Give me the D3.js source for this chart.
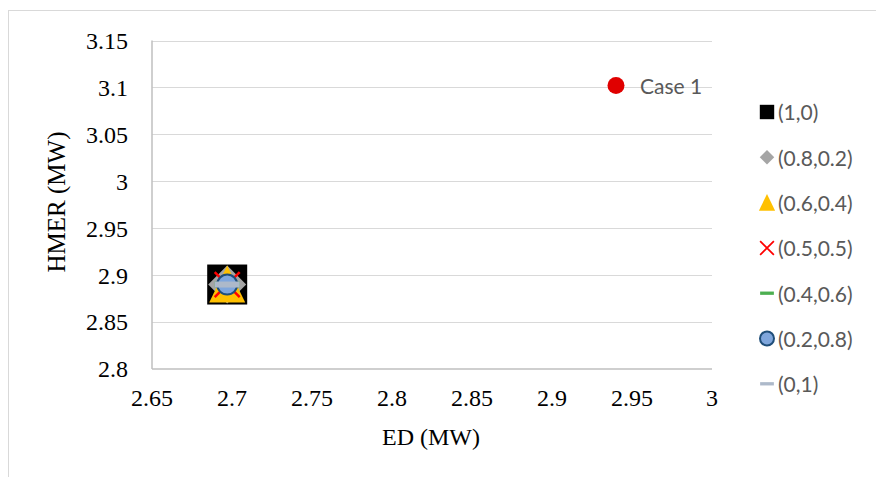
<!DOCTYPE html>
<html><head><meta charset="utf-8">
<script src="https://cdn.jsdelivr.net/npm/d3@7"></script>
<style>body{margin:0;background:#fff}svg{display:block}</style>
</head><body>
<svg id="c" width="876" height="477"></svg>
<script>
const xTicks = [2.65, 2.7, 2.75, 2.8, 2.85, 2.9, 2.95, 3];
const yTicks = [2.8, 2.85, 2.9, 2.95, 3, 3.05, 3.1, 3.15];
const seriesNames = ["(1,0)", "(0.8,0.2)", "(0.6,0.4)", "(0.5,0.5)", "(0.4,0.6)", "(0.2,0.8)", "(0,1)"];
const seriesED   = [2.697, 2.697, 2.697, 2.697, 2.697, 2.697, 2.697];
const seriesHMER = [2.89, 2.89, 2.89, 2.89, 2.89, 2.89, 2.89];
const caseName = "Case 1";
const caseED = 2.94;
const caseHMER = 3.102;

const svg = d3.select("#c");
// outer frame
svg.append("rect").attr("x", 8.5).attr("y", 10.5).attr("width", 900).attr("height", 500)
  .attr("fill", "none").attr("stroke", "#d9d9d9").attr("stroke-width", 1);

const x = d3.scaleLinear().domain([2.65, 3]).range([152, 712]);
const y = d3.scaleLinear().domain([2.8, 3.15]).range([369, 40.5]);

// gridlines
svg.append("g").selectAll("line").data(yTicks.slice(1)).join("line")
  .attr("x1", x(2.65)).attr("x2", x(3))
  .attr("y1", d => Math.round(y(d)) + 0.5).attr("y2", d => Math.round(y(d)) + 0.5)
  .attr("stroke", "#d9d9d9").attr("stroke-width", 1);

// axes lines
const axisColor = "#bfbfbf";
svg.append("line").attr("x1", x(2.65)).attr("x2", x(2.65)).attr("y1", y(3.15)).attr("y2", y(2.8))
  .attr("stroke", axisColor).attr("stroke-width", 1.5);
svg.append("line").attr("x1", x(2.65)).attr("x2", x(3)).attr("y1", y(2.8)).attr("y2", y(2.8))
  .attr("stroke", axisColor).attr("stroke-width", 1.5);

const tickFont = "'Liberation Serif','Times New Roman',serif";
// y tick labels
svg.append("g").selectAll("text").data(yTicks).join("text")
  .attr("x", 128).attr("y", d => y(d)).attr("dy", "0.35em")
  .attr("text-anchor", "end").attr("font-family", tickFont).attr("font-size", 24)
  .attr("fill", "#000").text(d => d3.format("")(d));
// x tick labels
svg.append("g").selectAll("text").data(xTicks).join("text")
  .attr("x", d => x(d)).attr("y", 398).attr("dy", "0.35em")
  .attr("text-anchor", "middle").attr("font-family", tickFont).attr("font-size", 24)
  .attr("fill", "#000").text(d => d3.format("")(d));

// axis titles
svg.append("text").attr("x", 431).attr("y", 437).attr("dy", "0.35em").attr("text-anchor", "middle")
  .attr("font-family", tickFont).attr("font-size", 24).text("ED (MW)");
svg.append("text").attr("transform", "translate(56,202) rotate(-90)").attr("dy", "0.35em")
  .attr("text-anchor", "middle").attr("font-family", tickFont).attr("font-size", 25).text("HMER (MW)");

// marker drawers
const styles = [
  {type: "square", color: "#000000"},
  {type: "diamond", color: "#a5a5a5"},
  {type: "triangle", color: "#ffc000"},
  {type: "x", color: "#ff0000"},
  {type: "dash", color: "#4caf50"},
  {type: "circle", color: "#7fa6dc", stroke: "#1f4e79"},
  {type: "dash", color: "#adb9ca"}
];
function drawMarker(g, s, cx, cy, k) {
  if (s.type === "square") {
    g.append("rect").attr("x", cx - 20*k).attr("y", cy - 20*k).attr("width", 40*k).attr("height", 40*k).attr("fill", s.color);
  } else if (s.type === "diamond") {
    const r = 19*k;
    g.append("path").attr("d", `M${cx},${cy-r}L${cx+r},${cy}L${cx},${cy+r}L${cx-r},${cy}Z`).attr("fill", s.color);
  } else if (s.type === "triangle") {
    const w = 18*k;
    g.append("path").attr("d", `M${cx},${cy-19*k}L${cx+w},${cy+18*k}L${cx-w},${cy+18*k}Z`).attr("fill", s.color);
  } else if (s.type === "x") {
    const r = 12.5*k;
    g.append("path").attr("d", `M${cx-r},${cy-r}L${cx+r},${cy+r}M${cx+r},${cy-r}L${cx-r},${cy+r}`)
      .attr("stroke", s.color).attr("stroke-width", 2.5*Math.max(k,0.7)).attr("fill", "none");
  } else if (s.type === "dash") {
    g.append("rect").attr("x", cx - 12.5*k).attr("y", cy - 3*k).attr("width", 25*k).attr("height", 6*k).attr("fill", s.color);
  } else if (s.type === "circle") {
    g.append("circle").attr("cx", cx).attr("cy", cy).attr("r", 10*k).attr("fill", s.color)
      .attr("stroke", s.stroke).attr("stroke-width", 2);
  }
}

// data markers (draw in order; last on top)
const mg = svg.append("g");
seriesNames.forEach((n, i) => {
  drawMarker(mg, styles[i], x(seriesED[i]), y(seriesHMER[i]), 1);
});

// Case 1
svg.append("circle").attr("cx", x(caseED)).attr("cy", y(caseHMER)).attr("r", 8.5).attr("fill", "#e00000");
svg.append("text").attr("x", x(caseED) + 24).attr("y", y(caseHMER) + 1).attr("dy", "0.35em")
  .attr("font-family", "Lato, 'Open Sans', sans-serif").attr("font-size", 21).attr("fill", "#595959").text(caseName);

// legend
const lg = svg.append("g");
const legendK = [0.36, 0.38, 0.45, 0.55, 0.55, 0.7, 0.55];
seriesNames.forEach((n, i) => {
  const cy = 112 + i * 45.3;
  drawMarker(lg, styles[i], 767, cy, legendK[i]);
  lg.append("text").attr("x", 778).attr("y", cy + 1).attr("dy", "0.35em")
    .attr("font-family", "Lato, 'Open Sans', sans-serif").attr("font-size", 21).attr("fill", "#595959").text(n);
});
</script>
</body></html>
